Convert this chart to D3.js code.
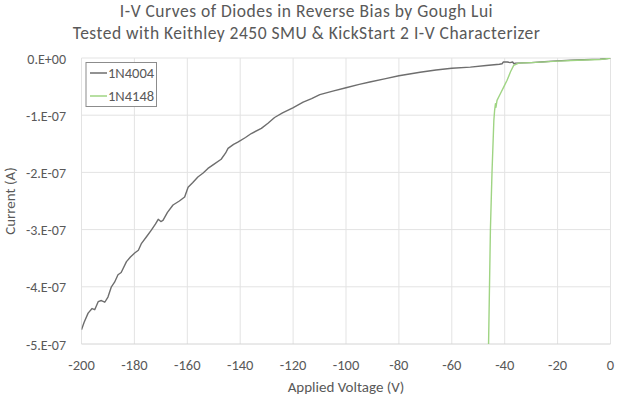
<!DOCTYPE html>
<html>
<head>
<meta charset="utf-8">
<script src="https://cdn.jsdelivr.net/npm/d3@7"></script>
<style>
  body { margin: 0; background: #fff; }
  text { font-family: Carlito, Lato, sans-serif; fill: #595959; }
</style>
</head>
<body>
<div id="chart"></div>
<script>
// chart text
var titleLines = ["I-V Curves of Diodes in Reverse Bias by Gough Lui",
                  "Tested with Keithley 2450 SMU & KickStart 2 I-V Characterizer"];
var seriesNames = ["1N4004", "1N4148"];
var xTicks = [-200, -180, -160, -140, -120, -100, -80, -60, -40, -20, 0];
var yTicks = [0, -1e-7, -2e-7, -3e-7, -4e-7, -5e-7];
var yTickLabels = ["0.E+00", "-1.E-07", "-2.E-07", "-3.E-07", "-4.E-07", "-5.E-07"];

// 1N4004 readings (voltage V, current in units of 1e-7 A)
var v4004 = [-200, -199, -197.5, -196, -195, -193.7, -192.5, -191.2, -190, -188.7, -187.5, -186.2,
  -185, -183, -181.5, -179.9, -178.5, -177.3, -175.5, -173.6, -172, -171, -170, -169.2, -167.5,
  -165.4, -163, -161, -159.7, -158, -156, -154, -152.2, -150, -147.2, -145.5, -144.6, -142.5,
  -140.9, -138, -135.8, -132, -129.5, -127, -124, -120.1, -116.2, -113, -109.9, -105, -100,
  -95, -91, -85, -80, -76, -72, -66, -60, -53, -47, -42, -41, -40.5, -39, -38, -37, -36.5,
  -35.9, -30, -25, -20.2, -15, -10, -4, -2, 0];
var i4004 = [-4.75, -4.62, -4.46, -4.38, -4.40, -4.26, -4.24, -4.27, -4.18, -4.00, -3.92, -3.79,
  -3.75, -3.56, -3.48, -3.41, -3.36, -3.24, -3.13, -3.01, -2.90, -2.82, -2.86, -2.84, -2.70,
  -2.57, -2.50, -2.43, -2.26, -2.18, -2.08, -2.01, -1.93, -1.86, -1.77, -1.66, -1.58, -1.51,
  -1.47, -1.39, -1.32, -1.23, -1.14, -1.04, -0.96, -0.87, -0.77, -0.71, -0.64, -0.58, -0.52,
  -0.46, -0.42, -0.36, -0.31, -0.28, -0.25, -0.21, -0.18, -0.16, -0.13, -0.11, -0.10, -0.07,
  -0.07, -0.08, -0.07, -0.10, -0.09, -0.08, -0.065, -0.05, -0.04, -0.03, -0.02, -0.012, 0];

// 1N4148 readings
var v4148 = [-46.4, -46.1, -45.4, -44.8, -44.1, -43.8, -43.5, -43.3, -42.9, -41.6, -40.3, -39.1,
  -37.8, -36.6, -34.7, -30, -20, -10, -4, 0];
var i4148 = [-5.4, -5.0, -3.0, -2.0, -1.09, -0.91, -0.80, -0.86, -0.74, -0.62, -0.50, -0.39,
  -0.24, -0.13, -0.09, -0.08, -0.055, -0.035, -0.025, -0.005];

var colors = ["#6e6e6e", "#9fd483"];

var W = 619, H = 397;
var plot = {left: 81.5, right: 610.5, top: 58, bottom: 344};

var svg = d3.select("#chart").append("svg")
    .attr("width", W)
    .attr("height", H);

var x = d3.scaleLinear().domain([-200, 0]).range([plot.left, plot.right]);
var y = d3.scaleLinear().domain([-5e-7, 0]).range([plot.bottom, plot.top]);

//gridlines
svg.append("g").selectAll("line.vg")
    .data(xTicks)
    .enter().append("line")
    .attr("x1", function(d){ return x(d) }).attr("x2", function(d){ return x(d) })
    .attr("y1", plot.top).attr("y2", plot.bottom)
    .attr("stroke", "#e3e3e3").attr("stroke-width", 1);

svg.append("g").selectAll("line.hg")
    .data(yTicks)
    .enter().append("line")
    .attr("x1", plot.left).attr("x2", plot.right)
    .attr("y1", function(d){ return y(d) }).attr("y2", function(d){ return y(d) })
    .attr("stroke", function(d){ return d === -5e-7 ? "#d4d4d4" : "#e3e3e3" })
    .attr("stroke-width", 1);

//tick labels
svg.append("g").selectAll("text")
    .data(yTicks)
    .enter().append("text")
    .attr("x", 66)
    .attr("y", function(d){ return y(d) + 5.5 })
    .attr("text-anchor", "end")
    .style("font-size", "14px")
    .text(function(d, i){ return yTickLabels[i] });

svg.append("g").selectAll("text")
    .data(xTicks)
    .enter().append("text")
    .attr("x", function(d){ return x(d) })
    .attr("y", 370)
    .attr("text-anchor", "middle")
    .style("font-size", "14.5px")
    .text(function(d){ return d });

//axis titles
svg.append("text")
    .attr("x", (plot.left + plot.right) / 2)
    .attr("y", 392)
    .attr("text-anchor", "middle")
    .style("font-size", "15px")
    .text("Applied Voltage (V)");

svg.append("text")
    .attr("transform", "translate(15," + ((plot.top + plot.bottom) / 2) + ") rotate(-90)")
    .attr("text-anchor", "middle")
    .style("font-size", "15px")
    .text("Current (A)");

//title
svg.append("g").selectAll("text")
    .data(titleLines)
    .enter().append("text")
    .attr("x", 306.5)
    .attr("y", function(d, i){ return 17 + i * 21.5 })
    .attr("text-anchor", "middle")
    .style("font-size", "17.5px")
    .style("letter-spacing", "0.5px")
    .text(function(d){ return d });

//lines
svg.append("clipPath").attr("id", "clip")
    .append("rect")
    .attr("x", plot.left).attr("y", plot.top)
    .attr("width", plot.right - plot.left).attr("height", plot.bottom - plot.top);

var line = d3.line()
    .x(function(d){ return x(d[0]) })
    .y(function(d){ return y(d[1] * 1e-7) });

var series = [
    d3.zip(v4004, i4004),
    d3.zip(v4148, i4148)
];

svg.append("g").attr("clip-path", "url(#clip)")
    .selectAll("path")
    .data(series)
    .enter().append("path")
    .attr("d", line)
    .attr("fill", "none")
    .attr("stroke", function(d, i){ return colors[i] })
    .attr("stroke-width", 1.4)
    .attr("stroke-linejoin", "round");

//legend
var legend = svg.append("g");
legend.append("rect")
    .attr("x", 86).attr("y", 62.5)
    .attr("width", 70.5).attr("height", 44)
    .attr("fill", "#fff")
    .attr("stroke", "#8c8c8c").attr("stroke-width", 1);

var items = legend.selectAll("g.item")
    .data(seriesNames)
    .enter().append("g")
    .attr("transform", function(d, i){ return "translate(0," + (73 + i * 23) + ")" });

items.append("line")
    .attr("x1", 90).attr("x2", 107)
    .attr("stroke", function(d, i){ return colors[i] })
    .attr("stroke-width", 1.5);

items.append("text")
    .attr("x", 108)
    .attr("y", 5)
    .style("font-size", "14.5px")
    .text(function(d){ return d });
</script>
</body>
</html>
